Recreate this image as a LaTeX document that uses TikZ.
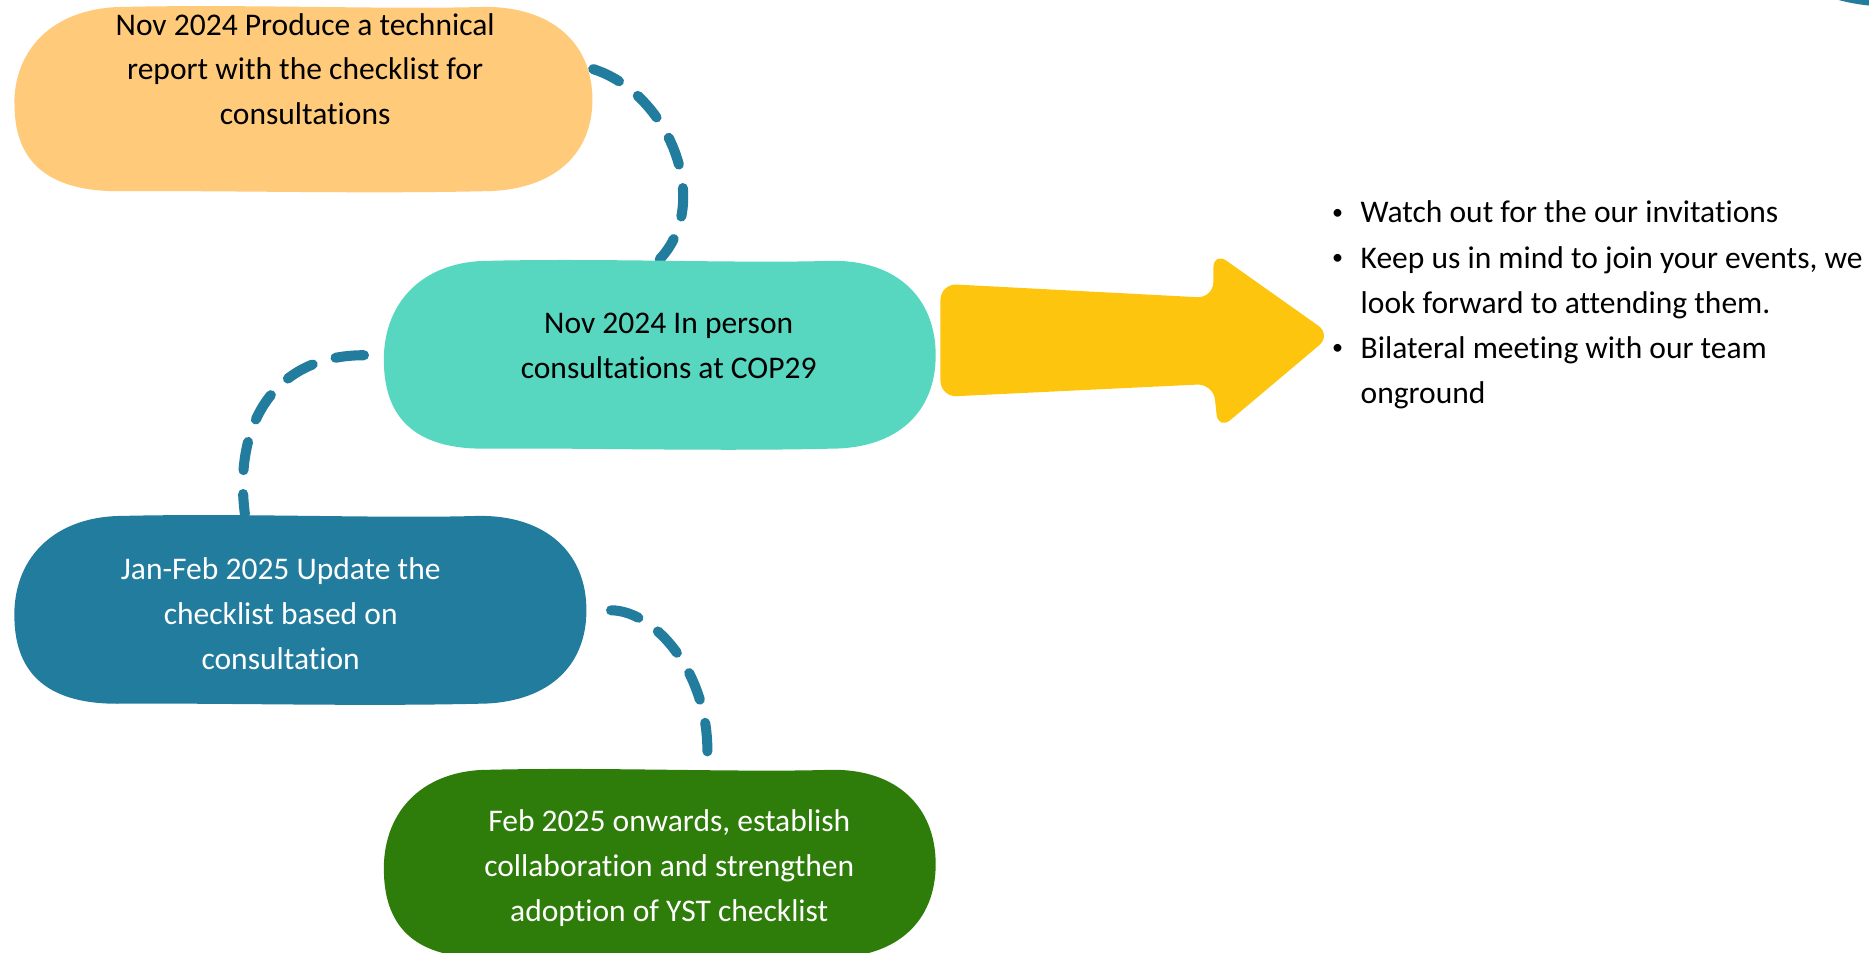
\documentclass[tikz,border=0pt]{standalone}
\usepackage{fontspec}
\setmainfont{Carlito}[Ligatures=NoCommon]
\usetikzlibrary{calc}
\pgfdeclarelayer{background}
\pgfsetlayers{background,main}
\definecolor{reportcol}{HTML}{FFCA7A}
\definecolor{copcol}{HTML}{58D7C0}
\definecolor{updatecol}{HTML}{227C9D}
\definecolor{adoptcol}{HTML}{2E7D0A}
\definecolor{arrowcol}{HTML}{FEC50F}
\tikzset{
  blob/.style 2 args={rectangle, inner sep=0pt, minimum width=#1, minimum height=#2},
  stage/.style={font=\fontsize{9.4}{13.4}\selectfont, align=center, inner sep=0pt},
  note/.style={font=\fontsize{9.4}{13.5}\selectfont, inner sep=0pt},
  link/.style={draw=updatecol, line width=3pt, line cap=round, dash pattern=on 0.3cm off 0.25cm}
}
\newcommand{\smallbullet}{\raisebox{0.25ex}{\scalebox{0.7}{\textbullet}}}
% wobbly pill drawn round a node: name, colour, half width, half height
\newcommand{\blobfill}[4]{%
  \begin{scope}[shift={(#1.center)}, xscale=#3, yscale=#4]
    \fill[#2] (-1,0.05) .. controls (-1,-0.58) and (-0.85,-0.99) .. (-0.62,-0.99)
      .. controls (-0.2,-1.02) and (0.3,-0.96) .. (0.62,-0.99)
      .. controls (0.86,-1) and (1,-0.6) .. (1,0)
      .. controls (1,0.6) and (0.86,0.98) .. (0.62,0.98)
      .. controls (0.2,1.01) and (-0.3,0.97) .. (-0.64,0.98)
      .. controls (-0.9,0.98) and (-1,0.62) .. cycle;
  \end{scope}}
\begin{document}
\begin{tikzpicture}[x=0.0125cm, y=-0.0125cm]
\useasboundingbox (0,0) rectangle (1568,798.7);
% stages
\node[blob={6.0625cm}{1.9625cm}] (report) at (254.5,83.5) {};
\node[blob={5.7875cm}{2cm}] (cop) at (553.5,298) {};
\node[blob={6cm}{2cm}] (update) at (252,512) {};
\node[blob={5.7875cm}{2cm}] (adopt) at (553.5,725) {};
\node[stage] (report-txt) at (256,58) {Nov 2024 Produce a technical\\report with the checklist for\\consultations};
\node[stage] (cop-txt) at (561,290) {Nov 2024 In person\\consultations at COP29};
\node[stage, text=white] (update-txt) at (235.5,515) {Jan-Feb 2025 Update the\\checklist based on\\consultation};
\node[stage, text=white] (adopt-txt) at (561.5,728) {Feb 2025 onwards, establish\\collaboration and strengthen\\adoption of YST checklist};
% what to expect
\node[note, anchor=base west] (plans) at (1117,187) {\begin{tabular}[t]{@{}p{0.3cm}@{}l@{}}
\smallbullet & Watch out for the our invitations\\
\smallbullet & Keep us in mind to join your events, we\\
 & look forward to attending them.\\
\smallbullet & Bilateral meeting with our team\\
 & onground
\end{tabular}};
\begin{pgfonlayer}{background}
\draw[link] (report.6) .. controls +(63,20) and +(45,-48) .. (cop.north); % report to COP29
\draw[link, shorten <=0.2cm] (cop.west) .. controls +(-90,0) and +(-10,-77) .. (update.120); % COP29 to update
\draw[link, shorten <=0.25cm] (update.east) .. controls +(58,0) and +(7,-75) .. (adopt.64); % update to adoption
\blobfill{report}{reportcol}{242.5}{78.5}
\blobfill{cop}{copcol}{231.5}{80}
\blobfill{update}{updatecol}{240}{80}
\blobfill{adopt}{adoptcol}{231.5}{80}
\end{pgfonlayer}
% big arrow
\fill[arrowcol, rounded corners=0.17cm] (789,238) -- (1018,250) -- (1018,211) -- (1117,281) -- (1022,361) -- (1018,322) -- (789,333) -- cycle;
\fill[updatecol] (1536,-2) .. controls (1548,2) and (1560,4) .. (1572,5) -- (1572,-2) -- cycle; % corner sliver
\end{tikzpicture}
\end{document}
